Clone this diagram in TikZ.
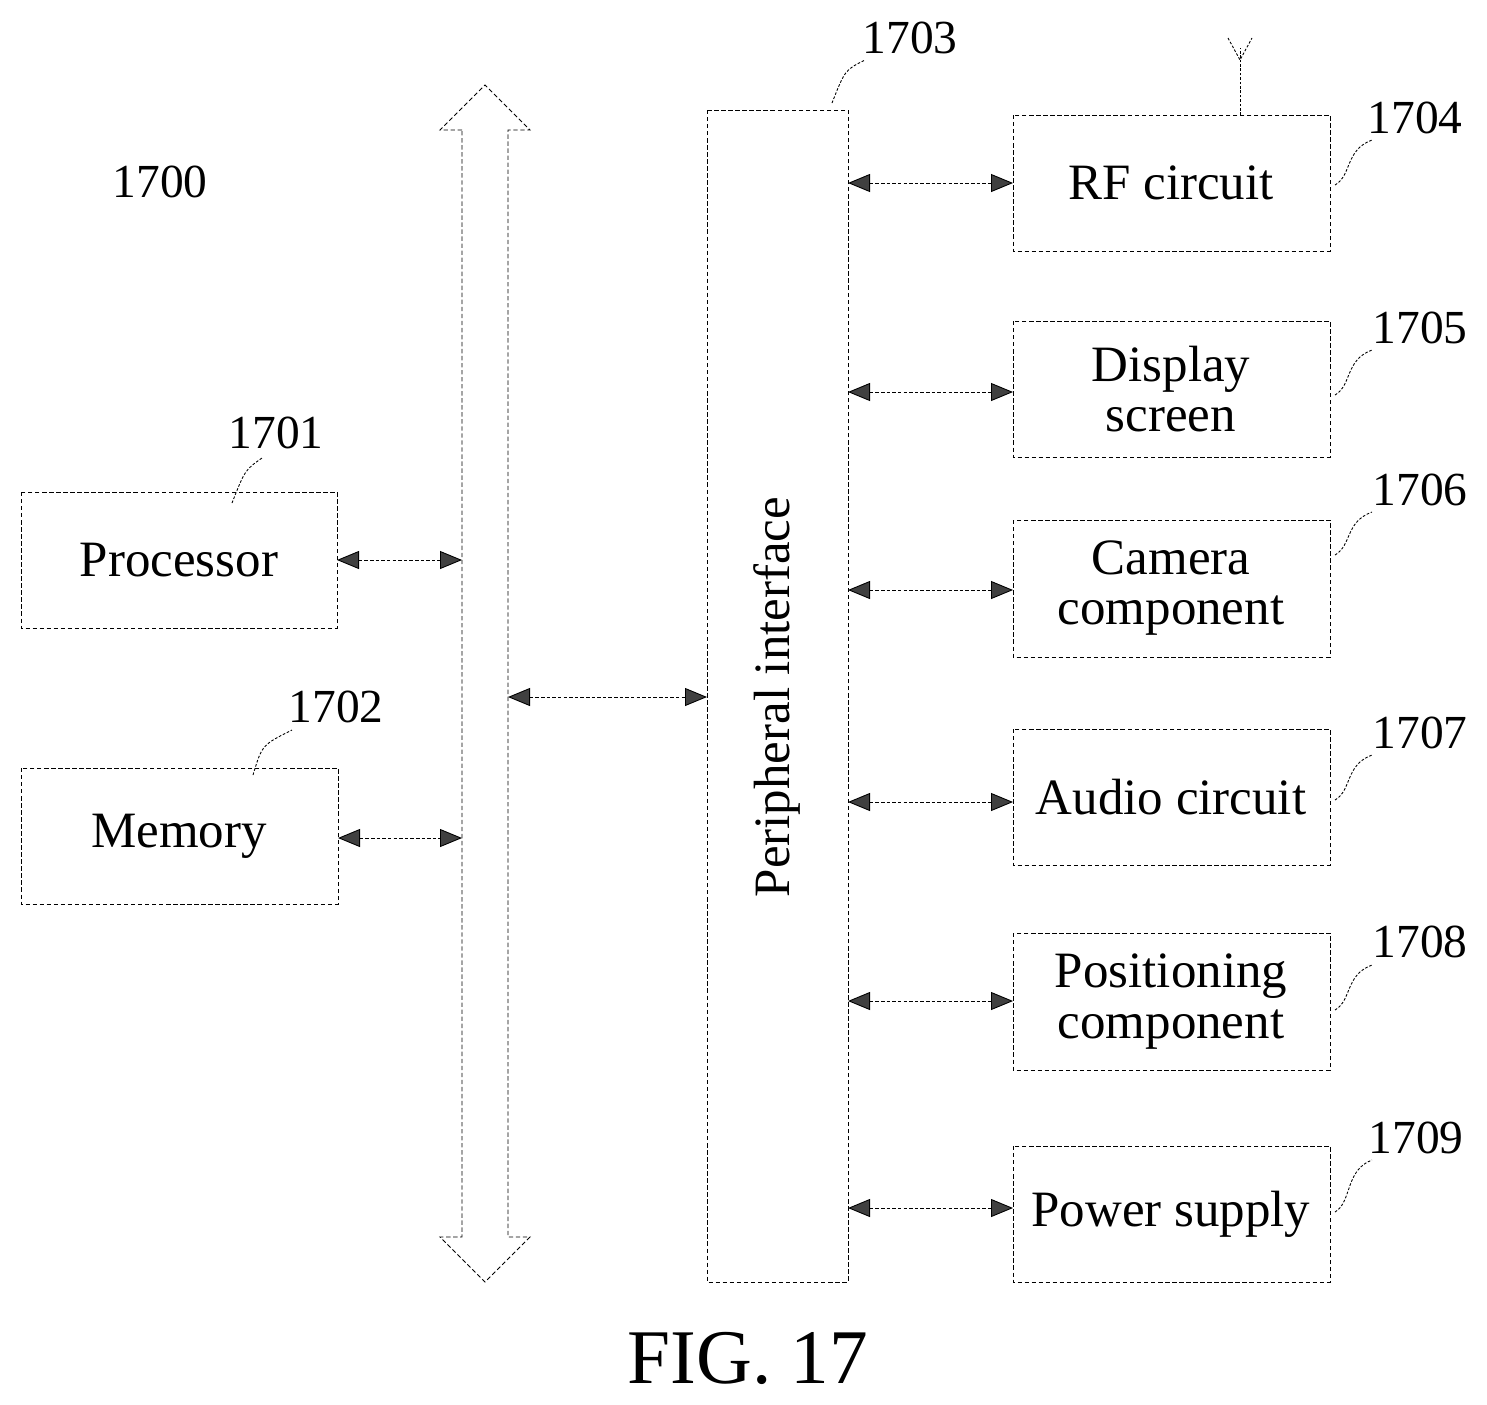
\documentclass[tikz,border=0pt]{standalone}
\usepackage{fontspec}
\setmainfont{Liberation Serif}
\usetikzlibrary{arrows.meta}
\tikzset{
  dbox/.style     = {draw=black, line width=0.5pt, dash pattern=on 2.5pt off 1.5pt},
  blabel/.style   = {font=\fontsize{29}{28.5}\selectfont, align=center},
  reflabel/.style = {font=\fontsize{27}{30}\selectfont},
  link/.style     = {{Triangle[length=4.4mm,width=3.6mm,fill=black!75]}-{Triangle[length=4.4mm,width=3.6mm,fill=black!75]},
                     line width=0.5pt, dash pattern=on 2pt off 1.2pt, draw=black},
  leader/.style   = {line width=0.5pt, dash pattern=on 1.5pt off 1pt}
}
\begin{document}
\begin{tikzpicture}[x=0.02cm, y=-0.02cm]
  \useasboundingbox (0,0) rectangle (1487,1404);
  % system bus
  \draw[dbox] (462,130) -- (440,130) -- (485,85) -- (530,130) -- (508,130)
    -- (508,1237) -- (530,1237) -- (485,1282) -- (440,1237) -- (462,1237) -- cycle;
  \coordinate (busL1) at (462,560);
  \coordinate (busL2) at (462,838);
  \coordinate (busR) at (508,697);
  % left blocks
  \draw[dbox] (21,492) rectangle (337,628);
  \node[blabel] (proc) at (179,560) {Processor};
  \coordinate (procE) at (337,560);
  \draw[dbox] (21,768) rectangle (338,904);
  \node[blabel] (mem) at (179,836) {Memory};
  \coordinate (memE) at (338,838);
  % peripheral interface
  \draw[dbox] (707,110) rectangle (848,1282);
  \node[blabel, rotate=90] (pif) at (777,697) {Peripheral interface};
  \coordinate (pifW) at (707,697);
  % right blocks
  \foreach \n/\yt/\yb/\ya/\txt in {rf/115/251/183/RF circuit,
      disp/321/457/392/Display\\screen,
      cam/520/657/590/Camera\\component,
      aud/729/865/802/Audio circuit,
      pos/933/1070/1001/Positioning\\component,
      pwr/1146/1282/1208/Power supply} {
    \draw[dbox] (1013,\yt) rectangle (1330,\yb);
    \node[blabel] (\n) at (1171,{(\yt+\yb)/2}) {\txt};
    \coordinate (\n W) at (1013,\ya);
    \coordinate (\n P) at (848,\ya);
    \draw[link] (\n P) -- (\n W);
  }
  \draw[link] (procE) -- (busL1);
  \draw[link] (memE) -- (busL2);
  \draw[link] (busR) -- (pifW);
  % antenna
  \draw[leader] (1240,115) -- (1240,48);
  \draw[leader] (1228,38) -- (1240,60) -- (1252,38);
  % reference numbers
  \node[reflabel] (n1700) at (160,182) {1700};
  \node[reflabel] (n1701) at (276,433) {1701};
  \node[reflabel] (n1702) at (336,707) {1702};
  \node[reflabel] (n1703) at (910,38) {1703};
  \node[reflabel] (n1704) at (1415,118) {1704};
  \node[reflabel] (n1705) at (1420,328) {1705};
  \node[reflabel] (n1706) at (1420,490) {1706};
  \node[reflabel] (n1707) at (1420,733) {1707};
  \node[reflabel] (n1708) at (1420,942) {1708};
  \node[reflabel] (n1709) at (1416,1138) {1709};
  \draw[leader] (232,503) .. controls (245,470) .. (262,458);
  \draw[leader] (253,775) .. controls (262,745) .. (292,730);
  \draw[leader] (832,103) .. controls (845,70) .. (865,60);
  \foreach \y/\t in {185/140, 395/350, 555/512, 800/755, 1010/965, 1212/1160} {
    \draw[leader] (1335,\y) .. controls (1352,\y-10) and (1345,\t+10) .. (1372,\t);
  }
  % caption
  \node[font=\fontsize{44}{48}\selectfont] (fig) at (748,1358) {FIG. 17};
\end{tikzpicture}
\end{document}
